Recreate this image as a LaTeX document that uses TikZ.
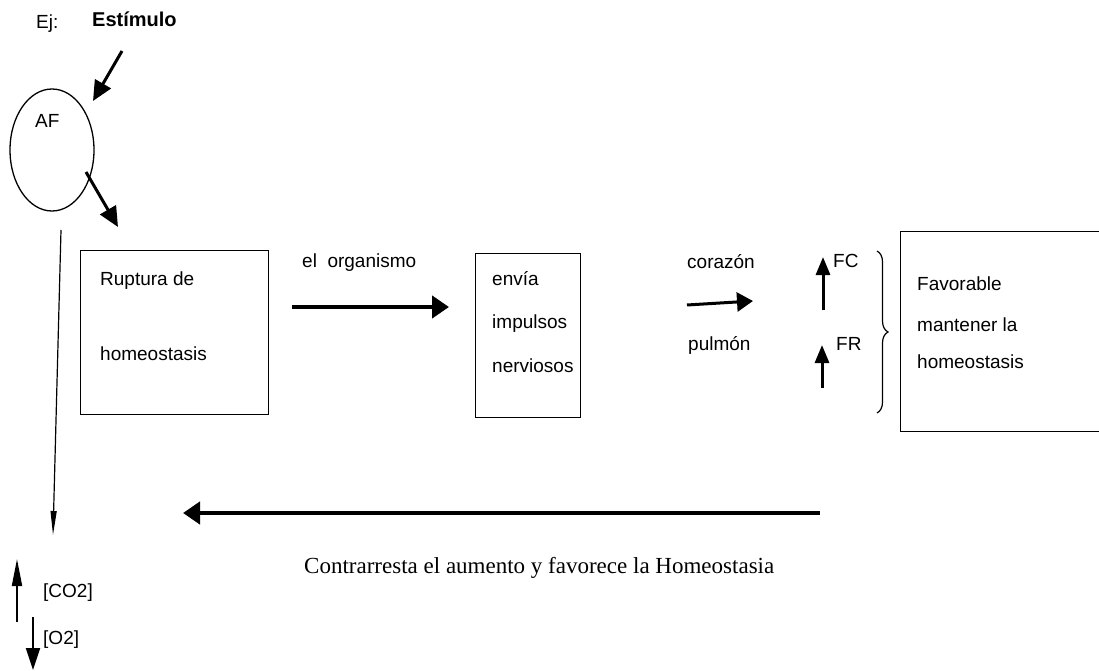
\documentclass[tikz,border=0pt]{standalone}
\usepackage{fontspec}
\setmainfont{Liberation Sans}
\newfontfamily\romanface{Liberation Serif}
\usetikzlibrary{arrows.meta,shapes.geometric,decorations.pathreplacing}

\begin{document}
\begin{tikzpicture}[x = 1pt, y = -1pt, font = \fontsize{19}{22}\selectfont,
    lbl/.style = {anchor = base west, inner sep = 0pt},
    box/.style = {draw, line width = 0.9pt},
    bigarrow/.style = {line width = 4.5pt, -{Triangle[length = 17pt, width = 22pt]}},
    midarrow/.style = {line width = 3pt, -{Triangle[length = 20pt, width = 18pt]}},
    uparrow/.style = {line width = 3pt, -{Triangle[length = 18pt, width = 14pt]}},
    thinarrow/.style = {line width = 1.2pt, -{Triangle[length = 24pt, width = 6pt]}}]
    \useasboundingbox (0, 0) rectangle (1099, 671);

    \node[lbl] (ej) at (36, 29) {Ej:};
    \node[lbl, font = \fontsize{20}{22}\selectfont\bfseries] (est) at (92, 27) {Estímulo};

    \node[draw, ellipse, line width = 1.3pt, minimum width = 84pt, minimum height = 122pt,
        inner sep = 0pt] (af) at (52, 150) {};
    \node[lbl] (aflbl) at (35, 128) {AF};

    \node[box, minimum width = 188pt, minimum height = 164pt] (rup) at (174, 332) {};
    \node[lbl] (rup1) at (100, 285) {Ruptura de};
    \node[lbl] (rup2) at (100, 360) {homeostasis};

    \node[box, minimum width = 105pt, minimum height = 164pt] (env) at (527.5, 335) {};
    \node[lbl] (env1) at (492, 285) {envía};
    \node[lbl] (env2) at (492, 328) {impulsos};
    \node[lbl] (env3) at (492, 372) {nerviosos};

    \node[box, minimum width = 199pt, minimum height = 200pt] (fav) at (999.5, 331) {};
    \node[lbl] (fav1) at (917, 290) {Favorable};
    \node[lbl] (fav2) at (917, 331) {mantener la};
    \node[lbl] (fav3) at (917, 368) {homeostasis};

    \node[lbl] (org) at (302, 267) {el\ \ organismo};
    \node[lbl] (cor) at (687, 268) {corazón};
    \node[lbl] (pul) at (688, 350) {pulmón};
    \node[lbl] (fc) at (833, 267) {FC};
    \node[lbl] (fr) at (836, 350) {FR};
    \node[lbl] (co2) at (43, 597) {[CO2]};
    \node[lbl] (o2) at (43, 644) {[O2]};
    \node[lbl, font = \fontsize{23}{26}\selectfont\romanface] (contra) at (304, 573)
        {Contrarresta el aumento y favorece la Homeostasia};

    \coordinate (s1) at (122, 51);
    \coordinate (s2) at (93, 101);
    \coordinate (a1) at (86, 172);
    \coordinate (a2) at (118, 227);
    \coordinate (o1) at (292, 307);
    \coordinate (o2end) at (449, 307);
    \coordinate (c1) at (687, 305);
    \coordinate (c2) at (753, 301);
    \coordinate (fc1) at (823, 310);
    \coordinate (fc2) at (823, 257);
    \coordinate (fr1) at (822, 388);
    \coordinate (fr2) at (822, 345);
    \coordinate (b1) at (820, 513);
    \coordinate (b2) at (183, 513);
    \coordinate (l1) at (61, 230);
    \coordinate (l2) at (53, 535);
    \coordinate (u1) at (17, 622);
    \coordinate (u2) at (17, 559);
    \coordinate (d1) at (33, 617);
    \coordinate (d2) at (33, 670);
    \coordinate (br1) at (877, 251);
    \coordinate (br2) at (877, 413);

    \draw[midarrow] (s1) to (s2);
    \draw[midarrow] (a1) to (a2);
    \draw[bigarrow] (o1) to (o2end);
    \draw[midarrow, -{Triangle[length = 16pt, width = 19pt]}] (c1) to (c2);
    \draw[uparrow] (fc1) to (fc2);
    \draw[uparrow] (fr1) to (fr2);
    \draw[bigarrow] (b1) to (b2);
    \draw[thinarrow] (l1) to (l2);
    \draw[line width = 2pt, -{Triangle[length = 27pt, width = 10pt]}] (u1) to (u2);
    \draw[line width = 2pt, -{Triangle[length = 22pt, width = 14pt]}] (d1) to (d2);
    \draw[line width = 1.2pt, decorate, decoration = {brace, amplitude = 11pt}] (br1) to (br2);
\end{tikzpicture}
\end{document}
